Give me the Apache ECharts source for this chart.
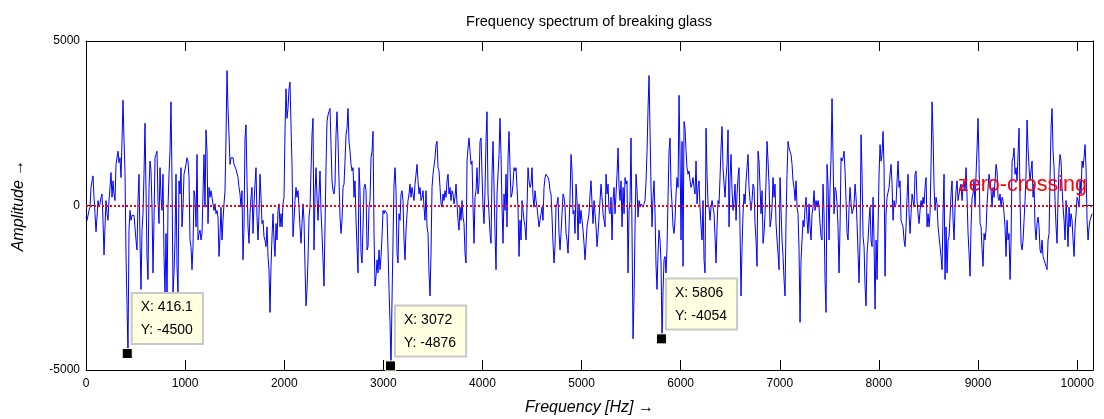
<!DOCTYPE html>
<html><head><meta charset="utf-8">
<script src="https://cdn.jsdelivr.net/npm/echarts@6/dist/echarts.min.js"></script>
<style>html,body{margin:0;padding:0;background:#fff}#c{width:1104px;height:419px}</style>
</head><body><div id="c"></div>
<script>
// ---- data ----
const titleText = 'Frequency spectrum of breaking glass';
const xName = 'Frequency [Hz] \u2192';
const yName = 'Amplitude \u2192';
const binWidthHz = 10.09;          // spacing of spectrum bins
const freqMin = 0, freqMax = 10160, freqTickStep = 1000;
const ampMin = -5000, ampMax = 5000, ampTickStep = 5000;

const seg1 = [-350,-450,-500,-150,-50,550,750,900,250,-250,
-800,-350,150,-50,50,250,350,-450,-1500,-650,
150,-250,-450,150,550,1000,250,750,350,150,
1250,1200,1650,1300,1450,850,1950,3200,2000,1000,
-1500,-3000,-4500,-750,-150,-450,-300,-350,-300,-250,
-1050,-1350,150,950,-1050,-2550,-750,-250,950,2500,
450,-1550,-2250,550,1350,1050,-50,-2050,-450,1450,
1550,1650,150,-550,1150,250,-150,950,-1550,-2650,
-850,-2850,-50,950,1650,3150,750,-2650,-2050,-1050,
950,-1850,-2650,750,350,1150,-650,-50,950];
const seg2 = [950,1250,1450,1350,850,-1050,-1250,-1950,-1250,450,
250,-650,1550,-1050,-850,-750,-1050,-850,350,1550,
-50,2300,1650,-550,550,250,450,250,50,-150,
50,-250,-150,-350,-1550,-950,-50,-1050,-450,50,
450,2050,4100,2950,2150,1250,1450,1500,1450,1250,
1250,1100,1050,850,550,350,-50,450,-1650,-650,
2050,2450,750,-650,-1150,-250,250,550,-850,50,
650,1150,-350,-1050,-250,950,250,-550,-450,-950,
-1050,-1250,-650,-1550,-1950,-3250,-1850,-950,-250,-1050,
-1550,-550,-1050,-150,50,-650,-250,-650,50,250,
2250,3550,2650,2950,3550];
const seg3 = [3750,2450,1250,-950,-450,150,550,250,450,-50,
-650,-1150,-550,50,-450,-1850,-3050,-2550,-1650,-350,
-50,1050,2150,2650,-1350,350,1150,250,-450,350,
1050,-150,-850,-1650,-2450,-650,1150,2550,2750,2850,
2950,1850,750,450,350,650,2150,2850,1950,750,
-350,-850,-450,550,650,1350,2150,2350,2950,1950,
1650,1250,1050,1150,250,750,-450,-1250,-2050,1150,
450,-1450,-1750,-650,550,650,450,-1350,-1250,-50,
150,1450,1650,2250,-850,-2450,-2150,-1650,-2050,-1350,
-1950,-1550,-950,-150,-250,-150,-200,-250,-1350,-2550,
-3550,-4876,-2850,-1050,650];
const seg4 = [1150,450,-1450,-1750,-250,-450,350,450,150,-1050,
-1650,-750,-250,150,350,650,250,550,350,150,
650,950,1250,750,350,550,150,250,450,-50,
-450,450,-650,-850,-2050,-2750,-1450,550,950,950,
1450,1850,1950,1150,1050,550,50,-50,350,150,
450,250,750,950,350,550,150,450,350,50,
250,650,50,-450,-750,-50,-450,150,-350,-550,
-1450,-1750,1350,1750,2050,1650,1250,1350,-50,-1150,
250,450,1150,350,650,1950,2050,950,-50,-550,
450,1950,2850,350,-250,-850,-1150,950,1950,550,
-850,-1950,350,950,1550];
const seg5 = [2650,1550,-50,-1150,350,-150,950,-650,1450,2250,
1150,250,350,650,1150,1050,1150,1200,-50,-1550,
-450,-1050,150,-150,-450,-650,-1050,-50,1150,750,
550,650,1150,250,-50,450,150,-50,-350,-650,
-450,-250,-50,-450,550,850,950,950,850,750,
450,350,-350,-1150,-1750,-1250,-50,50,250,-850,
-1350,-850,-250,350,250,-50,-850,-1050,-1450,-650,
250,1550,1050,-250,-150,-850,650,150,-1050,50,
-550,-150,-450,-750,-1150,-1650,-1150,-650,-450,-250,
350,750,50,-550,150,-250,-650,-1250,-850,-350,
150,650,250,-250,-450];
const seg6 = [-650,950,350,650,-150,-250,250,-1050,150,550,
-250,350,950,1750,550,150,750,-650,550,-250,
850,650,750,-2050,-150,150,2050,-850,-4050,-2750,
-650,950,450,-350,150,-50,50,0,-50,50,
150,750,1650,2950,3950,2250,550,-650,250,750,
-250,-1850,-2550,-1450,-750,-1050,-1750,-4054,-2600,-1650,
-1550,-2050,-1250,250,1650,2050,550,50,-650,-850,
-450,350,850,550,3350,1450,-1050,1950,-1850,2550,
2350,1650,1150,950,1050,750,550,650,850,550,
350,1350,50,550,750,-50,-650,-1050,150,-1650,
-2050,2350,950,50,-50];
const seg7 = [-450,-50,150,-50,-250,-950,-1750,-650,150,50,
850,1750,2400,1150,650,250,850,1250,2300,-650,
850,1550,450,-150,150,650,-450,350,850,1150,
-750,-2750,-1250,-250,350,50,750,1150,1550,550,
150,-150,150,650,550,-550,-1050,-1850,1650,1350,
550,-250,450,-1150,-850,-250,750,1950,1350,650,
-650,-450,-50,850,250,650,-550,-1050,-1450,-1950,
850,-150,-1050,-1550,-2250,-2750,-450,950,1950,1750,
1650,1550,1250,750,550,150,750,-50,-250,-1350,
-3550,-1650,-1050,-450,-650,-50,250,-450,-850,50,
-650,-1050,-250,-50,450];
const seg8 = [-150,150,-50,150,-50,-550,-950,-1050,650,-250,
-2250,-3250,1250,650,-1050,550,1450,3250,1450,-250,
550,450,50,-650,-2050,-650,1450,1350,1450,1650,
1050,150,-850,-1050,-50,550,50,-250,-150,50,
650,250,-550,-1450,-2350,-1050,2150,950,-950,-1250,
-2450,-3050,-1450,-1050,-450,-50,-1050,-1250,250,-1150,
-3150,-1050,-2250,-650,950,1850,1350,1550,2250,1150,
-2150,-250,250,250,550,950,1250,650,-450,150,
-50,50,750,1350,550,750,-450,-450,-650,-1050,
-1250,-650,250,950,-250,-850,-250,350,150,-50,
950,1050,150,-250,-550];
const seg9 = [-150,150,-50,250,50,550,850,-650,-250,-650,
-250,1250,3150,2150,550,-150,250,50,-650,-950,
-1250,-1550,-1950,-250,950,-2250,-650,-2050,-1050,-950,
-350,350,750,-450,-1050,-50,450,750,150,350,
550,650,150,550,750,450,1150,250,-850,-1450,
-2150,-650,250,350,750,-50,950,1750,2650,1250,
-550,-650,-1350,-1850,-850,-1050,-750,50,550,950,
750,450,-50,550,250,750,1250,1050,250,150,
350,-50,250,150,-250,-650,-1550,-450,-1050,-850,
-2250,-1050,1350,1450,1750,950,1150,750,750,2350,
150,-1150,-1350,-1050,-450,150,950,2600,1750,1150];
const seg10 = [750,1050,1350,250,650,-650,-1050,-550,-350,-650,
-1350,-1450,-1050,-1550,-1650,-1750,-1850,-1950,-1050,-850,
850,2350,2950,1650,1150,150,-650,-1150,250,1150,
1550,1350,550,-50,-450,-1050,150,-450,-1250,-50,
-650,-250,-450,-1050,-1550,-650,-250,250,150,-50,
750,350,1350,1150,1450,1850,1150,-450,-1050,-650,
-450,-350,-250];

// data-tip annotations
const tipFreq = [416.1, 3072, 5806];
const tipAmp  = [-4500, -4876, -4054];
const zeroLabel = 'zero-crossing';

// ---- build ----
const amplitude = [].concat(seg1, seg2, seg3, seg4, seg5, seg6, seg7, seg8, seg9, seg10);
const spectrum = amplitude.map((a, i) => [i * binWidthHz, a]);
const tips = tipFreq.map((f, i) => [f, tipAmp[i]]);

const FONT = 'Liberation Sans, Arial, sans-serif';
const chart = echarts.init(document.getElementById('c'), null, {renderer: 'canvas'});
const baseX = {
  type: 'value', min: freqMin, max: freqMax, interval: freqTickStep,
  splitLine: {show: false},
  axisLine: {show: true, onZero: false, lineStyle: {color: '#000', width: 1}},
  axisTick: {show: true, inside: true, length: 10, lineStyle: {color: '#000'}},
};
const baseY = {
  type: 'value', min: ampMin, max: ampMax, interval: ampTickStep,
  splitLine: {show: false},
  axisLine: {show: true, onZero: false, lineStyle: {color: '#000', width: 1}},
  axisTick: {show: true, inside: true, length: 10, lineStyle: {color: '#000'}},
};
chart.setOption({
  animation: false,
  backgroundColor: '#fff',
  title: {
    text: titleText, left: 584, top: 9, textAlign: 'center',
    textStyle: {fontFamily: FONT, fontSize: 14.5, fontWeight: 'normal', color: '#000'}
  },
  grid: {left: 86, top: 41, width: 1007, height: 329, show: false, containLabel: false, outerBoundsMode: 'none'},
  xAxis: [
    Object.assign({}, baseX, {
      position: 'bottom',
      axisLabel: {show: true, showMaxLabel: false, fontFamily: FONT, fontSize: 12, color: '#000', margin: 8,
        formatter: v => String(v)},
      name: xName, nameLocation: 'middle', nameGap: 30,
      nameTextStyle: {fontFamily: FONT, fontSize: 16, fontStyle: 'italic', color: '#000'}
    }),
    Object.assign({}, baseX, {position: 'top', axisLabel: {show: false}})
  ],
  yAxis: [
    Object.assign({}, baseY, {
      position: 'left',
      axisLabel: {show: true, fontFamily: FONT, fontSize: 12, color: '#000', margin: 6,
        formatter: v => String(v)},
      name: yName, nameLocation: 'middle', nameGap: 59, nameRotate: 90,
      nameTextStyle: {fontFamily: FONT, fontSize: 16, fontStyle: 'italic', color: '#000'}
    }),
    Object.assign({}, baseY, {position: 'right', axisLabel: {show: false}})
  ],
  series: [
    {
      type: 'line', data: spectrum, xAxisIndex: 0, yAxisIndex: 0,
      showSymbol: false, symbol: 'none', smooth: false,
      lineStyle: {color: '#0000FF', width: 1},
      markLine: {
        silent: true, symbol: 'none', animation: false,
        data: [
          {yAxis: 0, lineStyle: {color: '#FF0000', type: [2, 2], width: 2},
            label: {show: true, formatter: zeroLabel, position: 'insideEndTop', distance: 9,
              offset: [3, 0],
              color: '#FF0000', fontFamily: FONT, fontSize: 21.5}}
        ]
      },
      z: 2
    },
    {
      type: 'scatter', data: tips, symbol: 'rect', symbolSize: 10,
      itemStyle: {color: '#000', opacity: 1, borderColor: '#FFFFE1', borderWidth: 1},
      label: {
        show: true, position: [11, -54], align: 'left', verticalAlign: 'top',
        formatter: p => 'X: ' + p.value[0] + '\nY: ' + p.value[1],
        fontFamily: FONT, fontSize: 14, color: '#000', lineHeight: 23,
        backgroundColor: '#FFFFE1', borderColor: '#C8C8C8', borderWidth: 2,
        padding: [2, 9, 1, 8]
      },
      z: 5
    }
  ]
});
</script>
</body></html>
